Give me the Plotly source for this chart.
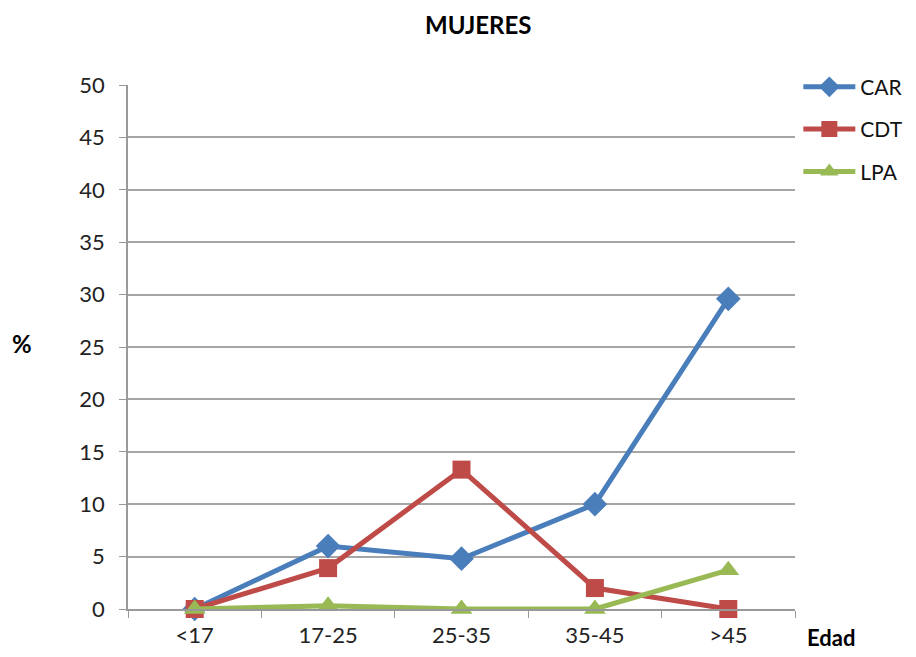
import plotly.graph_objects as go

categories = ["<17", "17-25", "25-35", "35-45", ">45"]
car = [0, 6.0, 4.8, 10.0, 29.6]
cdt = [0, 3.9, 13.3, 2.0, 0]
lpa = [0, 0.3, 0, 0, 3.7]
y_ticks = [0, 5, 10, 15, 20, 25, 30, 35, 40, 45, 50]

FONT = "Lato"
OFF = 8  # page body margin offset

W, H = 908, 649
L, R, T, B = 128 - OFF, 908 - (795 - OFF), 85 - OFF, 649 - (609 - OFF)

fig = go.Figure()
fig.add_trace(go.Scatter(x=categories, y=car, name="CAR", mode="lines+markers",
                         legendgroup="a", cliponaxis=False,
                         line=dict(color="#4A7EBB", width=5),
                         marker=dict(symbol="diamond", size=19, color="#4A7EBB")))
fig.add_trace(go.Scatter(x=categories, y=cdt, name="CDT", mode="lines+markers",
                         legendgroup="b", cliponaxis=False,
                         line=dict(color="#BE4B48", width=5),
                         marker=dict(symbol="square", size=18, color="#BE4B48")))
fig.add_trace(go.Scatter(x=categories, y=lpa, name="LPA", mode="lines+markers",
                         legendgroup="c", cliponaxis=False,
                         line=dict(color="#98B954", width=5),
                         marker=dict(symbol="triangle-up", size=19, color="#98B954")))

fig.update_layout(
    width=W, height=H,
    margin=dict(l=L, r=R, t=T, b=B, autoexpand=False),
    paper_bgcolor="white", plot_bgcolor="white",
    font=dict(family=FONT, size=22, color="#222"),
    showlegend=True,
    legend=dict(x=1.005, y=1.035, xanchor="left", yanchor="top",
                font=dict(family=FONT, size=21, color="#111"),
                tracegroupgap=12, itemwidth=52, bgcolor="rgba(0,0,0,0)"),
    xaxis=dict(type="category", range=[-0.5, 4.5], showgrid=False, automargin=False,
               showline=True, linecolor="#999", linewidth=1.5,
               ticks="outside", tickson="boundaries", ticklen=7, tickcolor="#999",
               ticklabelstandoff=6,
               tickfont=dict(family=FONT, size=22, color="#222")),
    yaxis=dict(range=[0, 50], tickvals=y_ticks, showgrid=True, gridcolor="#A6A6A6",
               gridwidth=1.5, showline=True, linecolor="#999", linewidth=1.5,
               automargin=False,
               ticks="outside", ticklen=7, tickcolor="#999", zeroline=False,
               ticklabelstandoff=10,
               tickfont=dict(family=FONT, size=22, color="#222")),
)

pw, ph = W - L - R, H - T - B
def px(x): return (x - OFF - L) / pw
def py(y): return (H - B - (y - OFF)) / ph

def label(text, x, y, size):
    fig.add_annotation(text=text, x=px(x), y=py(y), xref="paper", yref="paper",
                       xanchor="center", yanchor="middle", showarrow=False,
                       font=dict(family=FONT, size=size, color="#000"))

label("<b>MUJERES</b>", 478, 25, 24)
label("<b>%</b>", 22, 343, 24)
label("<b>Edad</b>", 831, 637, 22)

fig.write_html("out.html")
